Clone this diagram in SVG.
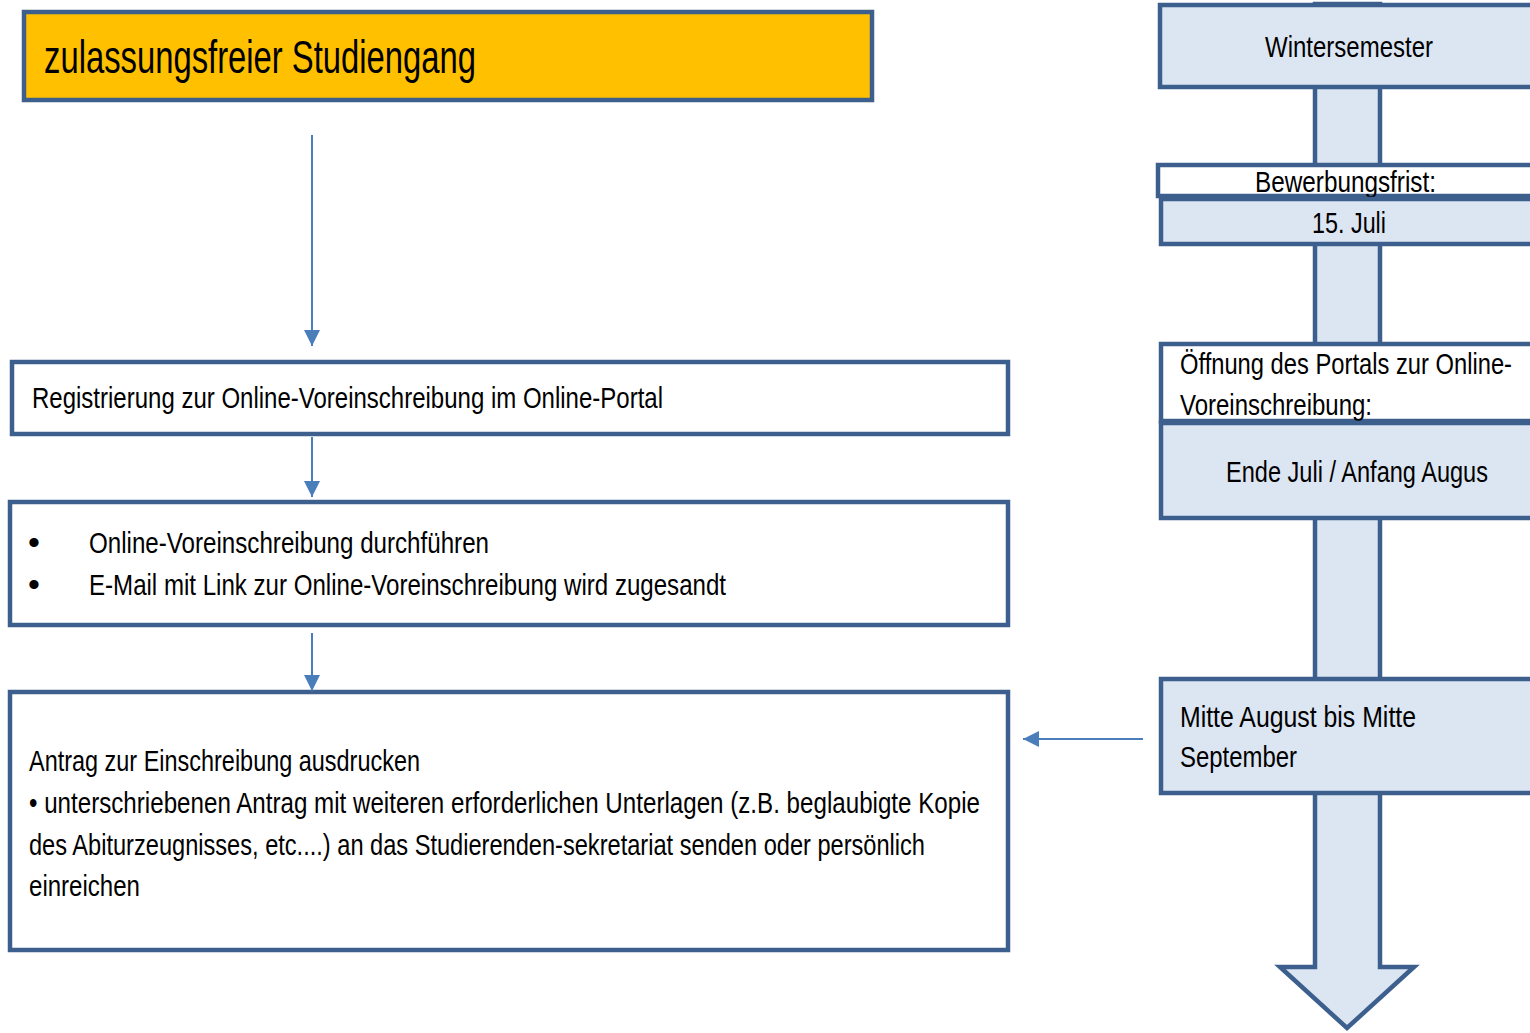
<svg xmlns="http://www.w3.org/2000/svg" width="1530" height="1033" viewBox="0 0 1530 1033">
<style>
.t{font-family:"Liberation Sans",Arial,sans-serif;font-size:30px;fill:#000}
.box{stroke:#3C5F8D;stroke-width:4.5}
.w{fill:#FFFFFF}
.lb{fill:#DCE6F2}
.c{stroke:#4A7EBB;stroke-width:2;fill:none}
</style>
<defs>
<marker id="ah" markerWidth="8" markerHeight="8" refX="8" refY="4" orient="auto" markerUnits="strokeWidth">
<path d="M0,0 L8,4 L0,8 Z" fill="#4A7EBB"/>
</marker>
</defs>
<rect width="1530" height="1033" fill="#FFFFFF"/>

<g id="timeline-arrow">
<path class="box lb" d="M1315,4 L1380,4 L1380,967 L1414,967 L1347,1028 L1280,967 L1315,967 Z"/>
</g>

<g id="node-title">
<rect class="box" x="24" y="12" width="848" height="88" fill="#FFC000"/>
<text class="t" x="44" y="73" style="font-size:46px" textLength="432" lengthAdjust="spacingAndGlyphs">zulassungsfreier Studiengang</text>
</g>

<g id="node-registrierung">
<rect class="box w" x="12" y="362" width="996" height="72"/>
<text class="t" x="32" y="408" textLength="631" lengthAdjust="spacingAndGlyphs">Registrierung zur Online-Voreinschreibung im Online-Portal</text>
</g>

<g id="node-voreinschreibung">
<rect class="box w" x="10" y="502" width="998" height="123"/>
<text class="t" x="28" y="554" style="font-size:34px">•</text>
<text class="t" x="89" y="553" textLength="400" lengthAdjust="spacingAndGlyphs">Online-Voreinschreibung durchführen</text>
<text class="t" x="28" y="596" style="font-size:34px">•</text>
<text class="t" x="89" y="595" textLength="637" lengthAdjust="spacingAndGlyphs">E-Mail mit Link zur Online-Voreinschreibung wird zugesandt</text>
</g>

<g id="node-antrag">
<rect class="box w" x="10" y="692" width="998" height="258"/>
<text class="t" x="29" y="771" textLength="391" lengthAdjust="spacingAndGlyphs">Antrag zur Einschreibung ausdrucken</text>
<text class="t" x="29" y="813" textLength="951" lengthAdjust="spacingAndGlyphs">• unterschriebenen Antrag mit weiteren erforderlichen Unterlagen (z.B. beglaubigte Kopie</text>
<text class="t" x="29" y="855" textLength="896" lengthAdjust="spacingAndGlyphs">des Abiturzeugnisses, etc....) an das Studierenden-sekretariat senden oder persönlich</text>
<text class="t" x="29" y="896" textLength="111" lengthAdjust="spacingAndGlyphs">einreichen</text>
</g>

<g id="node-wintersemester">
<rect class="box lb" x="1160" y="5" width="376" height="82"/>
<text class="t" x="1265" y="57" textLength="168" lengthAdjust="spacingAndGlyphs">Wintersemester</text>
</g>

<g id="node-bewerbungsfrist">
<rect class="box w" x="1158" y="165" width="378" height="31"/>
<text class="t" x="1255" y="192" textLength="181" lengthAdjust="spacingAndGlyphs">Bewerbungsfrist:</text>
<rect class="box lb" x="1161" y="199" width="375" height="45"/>
<text class="t" x="1312" y="233" textLength="74" lengthAdjust="spacingAndGlyphs">15. Juli</text>
</g>

<g id="node-portal">
<rect class="box w" x="1161" y="344" width="375" height="77"/>
<text class="t" x="1180" y="374" textLength="332" lengthAdjust="spacingAndGlyphs">Öffnung des Portals zur Online-</text>
<text class="t" x="1180" y="415" textLength="192" lengthAdjust="spacingAndGlyphs">Voreinschreibung:</text>
<rect class="box lb" x="1161" y="423" width="375" height="95"/>
<text class="t" x="1226" y="482" textLength="262" lengthAdjust="spacingAndGlyphs">Ende Juli / Anfang Augus</text>
</g>

<g id="node-mitte-august">
<rect class="box lb" x="1161" y="679" width="375" height="114"/>
<text class="t" x="1180" y="727" textLength="236" lengthAdjust="spacingAndGlyphs">Mitte August bis Mitte</text>
<text class="t" x="1180" y="767" textLength="117" lengthAdjust="spacingAndGlyphs">September</text>
</g>

<g id="connectors">
<line class="c" x1="312" y1="135" x2="312" y2="346" marker-end="url(#ah)"/>
<line class="c" x1="312" y1="437" x2="312" y2="497" marker-end="url(#ah)"/>
<line class="c" x1="312" y1="633" x2="312" y2="691" marker-end="url(#ah)"/>
<line class="c" x1="1143" y1="739" x2="1023" y2="739" marker-end="url(#ah)"/>
</g>
</svg>
